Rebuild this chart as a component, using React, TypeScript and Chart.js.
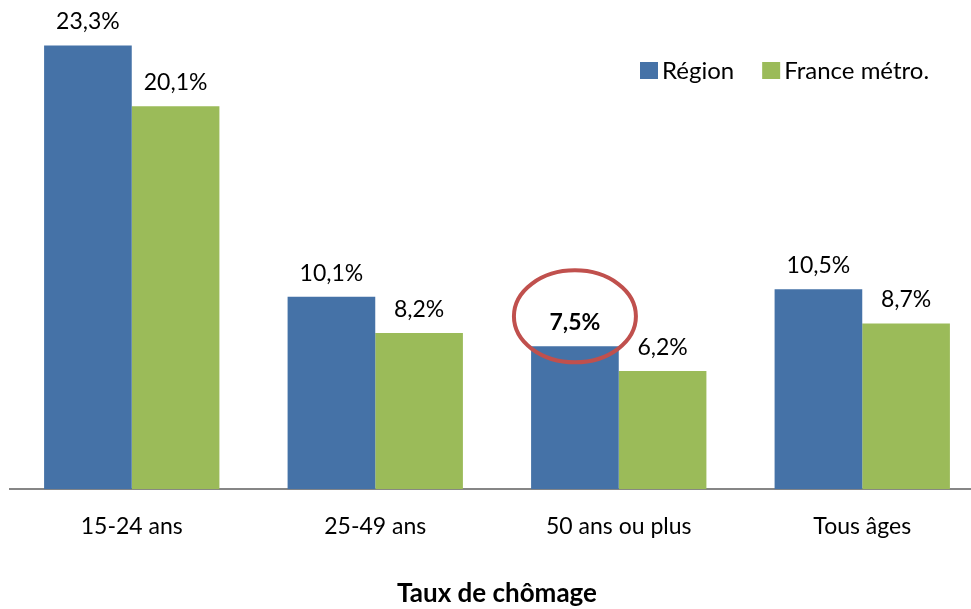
import React, { useEffect, useRef } from "react";
import { Chart, registerables } from "chart.js";

Chart.register(...registerables);

const categories = ["15-24 ans", "25-49 ans", "50 ans ou plus", "Tous âges"];
const seriesNames = ["Région", "France métro."];
const regionValues = [23.3, 10.1, 7.5, 10.5];
const franceValues = [20.1, 8.2, 6.2, 8.7];
const regionLabels = ["23,3%", "10,1%", "7,5%", "10,5%"];
const franceLabels = ["20,1%", "8,2%", "6,2%", "8,7%"];
const highlightIndex = 2;
const xTitle = "Taux de chômage";

const BLUE = "#4572A7";
const GREEN = "#9BBB59";
const FONT = "Lato, 'Noto Sans', sans-serif";

export default function App() {
  const ref = useRef<HTMLCanvasElement | null>(null);

  useEffect(() => {
    const canvas = ref.current;
    if (!canvas) return;
    const labelSets = [regionLabels, franceLabels];

    const overlay = {
      id: "overlay",
      afterDatasetsDraw(chart: any) {
        const ctx = chart.ctx;
        ctx.save();
        // data labels
        chart.data.datasets.forEach((ds: any, di: number) => {
          const meta = chart.getDatasetMeta(di);
          meta.data.forEach((bar: any, i: number) => {
            const bold = di === 0 && i === highlightIndex;
            ctx.font = `${bold ? "bold " : ""}23px ${FONT}`;
            ctx.fillStyle = "#000";
            ctx.textAlign = "center";
            ctx.textBaseline = "alphabetic";
            ctx.fillText(labelSets[di][i], bar.x, bar.y - 16);
          });
        });
        // highlight ellipse
        const hb: any = chart.getDatasetMeta(0).data[highlightIndex];
        ctx.beginPath();
        ctx.ellipse(hb.x, hb.y - 30, 61, 46, 0, 0, Math.PI * 2);
        ctx.strokeStyle = "#C0504D";
        ctx.lineWidth = 4;
        ctx.stroke();
        // legend
        const items = chart.data.datasets.map((d: any) => ({ text: d.label, color: d.backgroundColor }));
        let x = 640;
        const y = 62;
        ctx.font = `24px ${FONT}`;
        ctx.textAlign = "left";
        ctx.textBaseline = "alphabetic";
        items.forEach((it: any) => {
          ctx.fillStyle = it.color;
          ctx.fillRect(x, y, 18, 17);
          ctx.fillStyle = "#000";
          ctx.fillText(it.text, x + 22, y + 17);
          x += 22 + ctx.measureText(it.text).width + 28;
        });
        ctx.restore();
      },
    };

    const chart = new Chart(canvas, {
      type: "bar",
      data: {
        labels: categories,
        datasets: [
          { label: seriesNames[0], data: regionValues, backgroundColor: BLUE },
          { label: seriesNames[1], data: franceValues, backgroundColor: GREEN },
        ],
      },
      options: {
        animation: false,
        responsive: false,
        devicePixelRatio: 1,
        layout: { padding: { left: 10, right: 6, top: 13, bottom: 0 } },
        datasets: { bar: { categoryPercentage: 0.72, barPercentage: 1 } } as any,
        plugins: { legend: { display: false }, tooltip: { enabled: false } },
        scales: {
          y: { display: false, min: 0, max: 25 },
          x: {
            grid: { display: false, drawTicks: false },
            border: { display: true, color: "#868686", width: 2 },
            ticks: { color: "#000", font: { family: FONT, size: 23 }, padding: 24 },
            title: {
              display: true,
              text: xTitle,
              color: "#000",
              font: { family: FONT, size: 26, weight: "bold" },
              padding: { top: 13, bottom: 0 },
            },
          },
        },
      },
      plugins: [overlay],
    });
    return () => chart.destroy();
  }, []);

  return (
    <div style={{ position: "absolute", left: 0, top: 0, width: 971, height: 609, overflow: "hidden", background: "#fff" }}>
      <canvas ref={ref} width={990} height={609} style={{ display: "block", width: 990, height: 609 }} />
    </div>
  );
}
